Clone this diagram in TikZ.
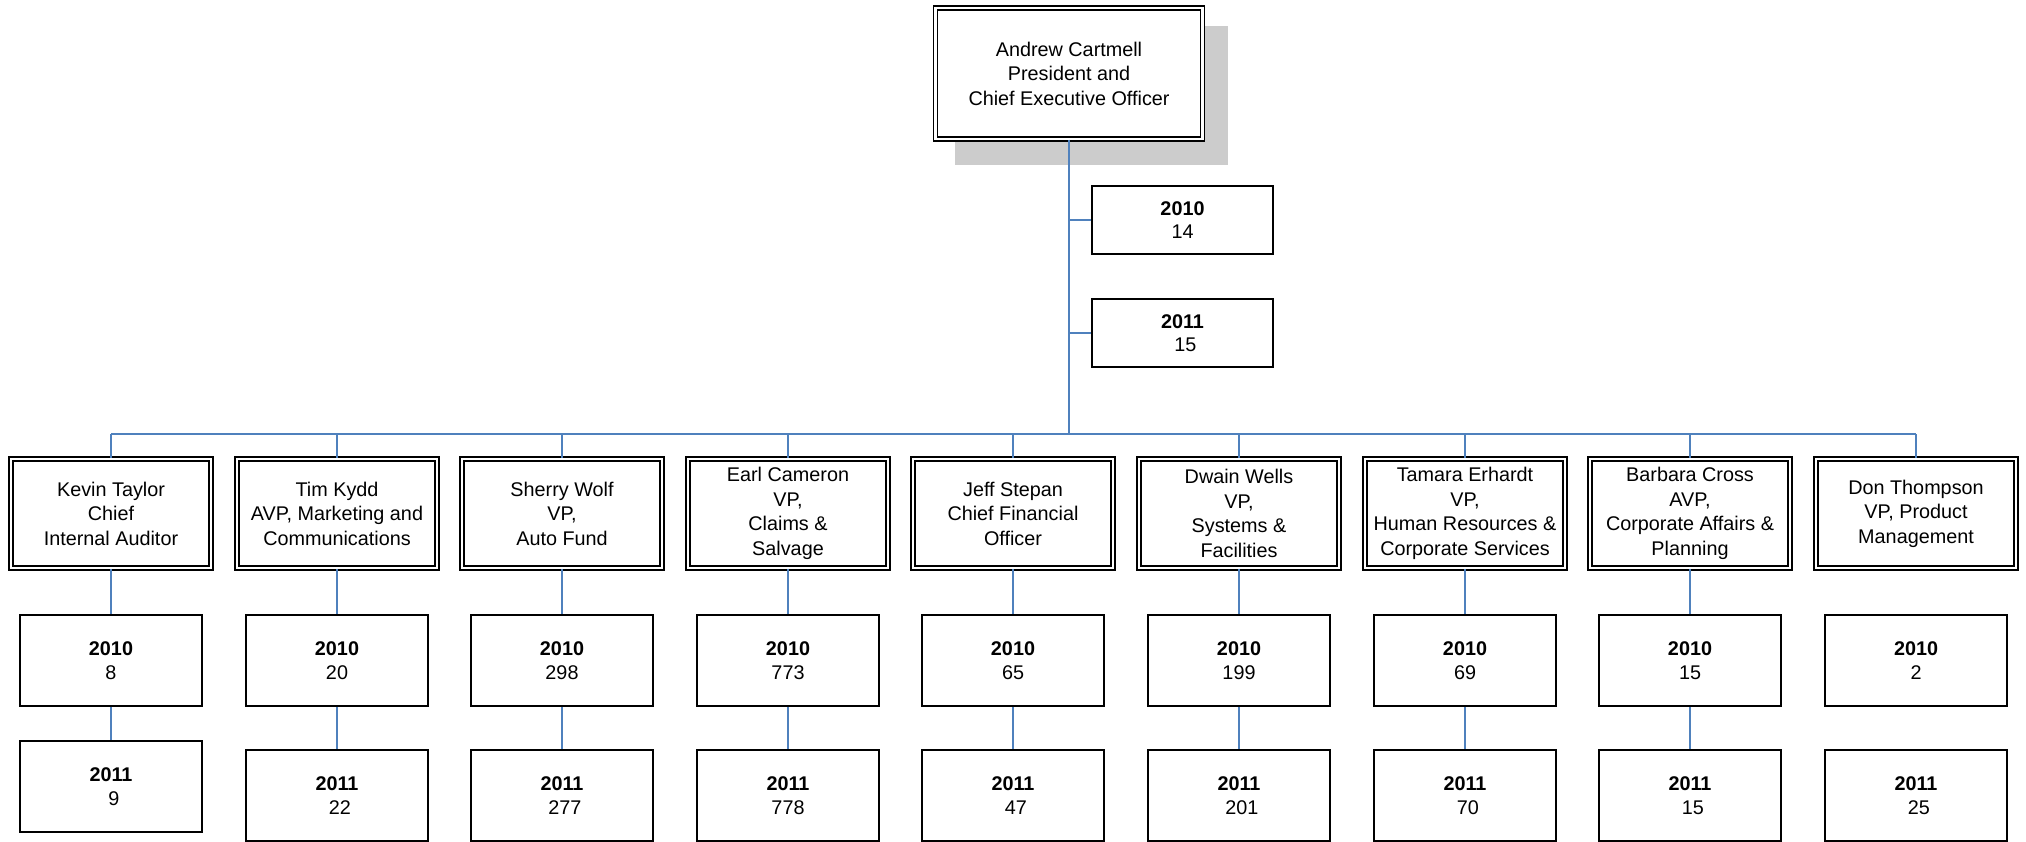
\documentclass[tikz,border=0pt]{standalone}
\usepackage{fontspec}
\setmainfont{Liberation Sans}
\usetikzlibrary{backgrounds}
\definecolor{conn}{RGB}{79,129,189}
\definecolor{shadowgray}{RGB}{204,204,204}
\newcommand{\lead}{\hspace*{0.28em}}
\begin{document}
\begin{tikzpicture}[x=1pt,y=-1pt,
 txt/.style={font=\fontsize{19.8}{24.5}\selectfont, align=center, inner sep=0pt},
 mgr/.style={txt, draw, line width=1.5pt, double, double distance=2.5pt, minimum width=200pt, minimum height=109pt},
 ceobox/.style={mgr, minimum width=267pt, minimum height=131pt, fill=white},
 yearbox/.style={txt, draw, line width=1.5pt, minimum width=182pt, minimum height=91pt},
 topyear/.style={yearbox, minimum width=181pt, minimum height=68pt, font=\fontsize{19.8}{23.5}\selectfont},
 link/.style={draw=conn, line width=1.8pt},
 trunk/.style={draw=conn, line width=2.6pt}]
\useasboundingbox (0,0) rectangle (2026,842);

% CEO
\node[ceobox] (ceo) at (1069,73.5) {Andrew Cartmell\\President and\\Chief Executive Officer};
\begin{scope}[on background layer]
\fill[shadowgray] ([shift={(20,19)}]ceo.north west) rectangle ([shift={(25,25)}]ceo.south east);
\end{scope}

\node[topyear] (t10) at (1182.5,220) {\textbf{2010}\\14};
\node[topyear] (t11) at (1182.5,333) {\textbf{2011}\\\lead 15};

\coordinate (bus) at (1069,434);

% managers
\node[mgr] (m1) at (111,513.5) {Kevin Taylor\\Chief\\Internal Auditor};
\node[mgr] (m2) at (337,513.5) {Tim Kydd\\AVP, Marketing and\\Communications};
\node[mgr] (m3) at (562,513.5) {Sherry Wolf\\VP,\\Auto Fund};
\node[mgr] (m4) at (788,513.5) {Earl Cameron\\VP,\\Claims \&\\Salvage};
\node[mgr] (m5) at (1013,513.5) {Jeff Stepan\\Chief Financial\\Officer};
\node[mgr] (m6) at (1239,513.5) {Dwain Wells\\VP,\\Systems \&\\Facilities};
\node[mgr] (m7) at (1465,513.5) {Tamara Erhardt\\VP,\\Human Resources \&\\Corporate Services};
\node[mgr] (m8) at (1690,513.5) {Barbara Cross\\AVP,\\Corporate Affairs \&\\Planning};
\node[mgr] (m9) at (1916,513.5) {Don Thompson\\VP, Product\\Management};

% 2010 boxes
\node[yearbox] (a1) at (111,660.5) {\textbf{2010}\\8};
\node[yearbox] (a2) at (337,660.5) {\textbf{2010}\\20};
\node[yearbox] (a3) at (562,660.5) {\textbf{2010}\\298};
\node[yearbox] (a4) at (788,660.5) {\textbf{2010}\\773};
\node[yearbox] (a5) at (1013,660.5) {\textbf{2010}\\65};
\node[yearbox] (a6) at (1239,660.5) {\textbf{2010}\\199};
\node[yearbox] (a7) at (1465,660.5) {\textbf{2010}\\69};
\node[yearbox] (a8) at (1690,660.5) {\textbf{2010}\\15};
\node[yearbox] (a9) at (1916,660.5) {\textbf{2010}\\2};

% 2011 boxes
\node[yearbox] (b1) at (111,786.5) {\textbf{2011}\\\lead 9};
\node[yearbox] (b2) at (337,795.5) {\textbf{2011}\\\lead 22};
\node[yearbox] (b3) at (562,795.5) {\textbf{2011}\\\lead 277};
\node[yearbox] (b4) at (788,795.5) {\textbf{2011}\\778};
\node[yearbox] (b5) at (1013,795.5) {\textbf{2011}\\\lead 47};
\node[yearbox] (b6) at (1239,795.5) {\textbf{2011}\\\lead 201};
\node[yearbox] (b7) at (1465,795.5) {\textbf{2011}\\\lead 70};
\node[yearbox] (b8) at (1690,795.5) {\textbf{2011}\\\lead 15};
\node[yearbox] (b9) at (1916,795.5) {\textbf{2011}\\\lead 25};

% connectors
\draw[trunk] (ceo.south) -- (bus);
\draw[link] (ceo.south |- t10.west) -- (t10.west);
\draw[link] (ceo.south |- t11.west) -- (t11.west);
\draw[link] (m1.north |- bus) -- (m9.north |- bus);
\foreach \i in {1,...,9}{
  \draw[link] (m\i.north |- bus) -- (m\i.north);
}
\foreach \i in {1,...,8}{
  \draw[link] (m\i.south) -- (a\i.north);
  \draw[link] (a\i.south) -- (b\i.north);
}
\end{tikzpicture}
\end{document}
